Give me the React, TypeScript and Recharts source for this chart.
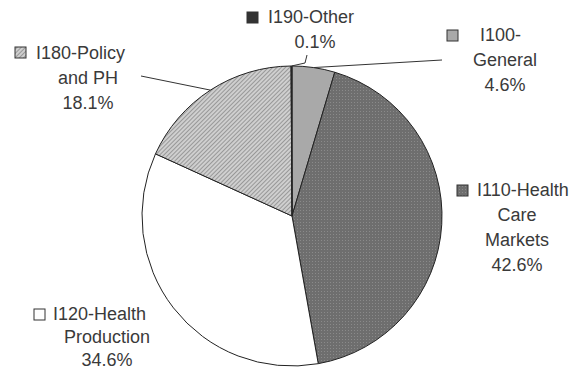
import { Cell, Pie, PieChart } from "recharts";

// slice data, clockwise from 12 o'clock
const categories = ["I100-General", "I110-Health Care Markets", "I120-Health Production", "I180-Policy and PH", "I190-Other"];
const shares = [4.6, 42.6, 34.6, 18.1, 0.1];
const labelText = [
  ["I100-", "General", "4.6%"],
  ["I110-Health", "Care", "Markets", "42.6%"],
  ["I120-Health", "Production", "34.6%"],
  ["I180-Policy", "and PH", "18.1%"],
  ["I190-Other", "0.1%"],
];

const FILLS = ["#a9a9a9", "url(#dots)", "#ffffff", "url(#hatch)", "#333333"];
const TEXT = "#3a3a3a";
const FONT = 18;

// where the hand-placed labels sit: square marker, first line start, centre for the rest
const LABEL_LAYOUT = [
  { sq: [447, 30], first: [480, 35], mid: 505, y0: 35, step: 25, leader: [[442, 60]] },
  { sq: [457, 185], first: [477, 190], mid: 517, y0: 190, step: 25, leader: null },
  { sq: [34, 309], first: [53, 314], mid: 107, y0: 314, step: 23, leader: null },
  { sq: [15, 47], first: [36, 53], mid: 88, y0: 53, step: 25, leader: [[141, 76]] },
  { sq: [247, 12], first: [268, 17], mid: 315, y0: 17, step: 25, leader: [[305, 63], [307, 55]] },
];

const RAD = Math.PI / 180;

function SliceLabel(props: any) {
  const { cx, cy, midAngle, outerRadius, index } = props;
  const lay = LABEL_LAYOUT[index];
  const lines = labelText[index];
  const px = cx + outerRadius * Math.cos(-midAngle * RAD);
  const py = cy + outerRadius * Math.sin(-midAngle * RAD);
  return (
    <g>
      {lay.leader && (
        <polyline
          points={[[px, py], ...lay.leader].map((p) => p.join(",")).join(" ")}
          fill="none"
          stroke="#333"
          strokeWidth={1}
        />
      )}
      <rect x={lay.sq[0]} y={lay.sq[1]} width={11} height={11} fill={FILLS[index]} stroke="#333" strokeWidth={1} />
      {lines.map((t, i) => (
        <text
          key={i}
          x={i === 0 ? lay.first[0] : lay.mid}
          y={lay.y0 + i * lay.step}
          textAnchor={i === 0 ? "start" : "middle"}
          dominantBaseline="central"
          fontSize={FONT}
          fontFamily="'Liberation Sans', Arial, sans-serif"
          fill={TEXT}
        >
          {t}
        </text>
      ))}
    </g>
  );
}

export default function App() {
  const data = categories.map((name, i) => ({ name, value: shares[i] }));
  return (
    <div style={{ position: "absolute", left: 0, top: 0, width: 582, height: 371, background: "#fff" }}>
      <PieChart width={582} height={371} margin={{ top: 0, right: 0, bottom: 0, left: 0 }}>
        <defs>
          <pattern id="hatch" width="3" height="3" patternUnits="userSpaceOnUse" patternTransform="rotate(45)">
            <rect width="3" height="3" fill="#cfcfcf" />
            <line x1="0" y1="0" x2="0" y2="3" stroke="#737373" strokeWidth="1.2" />
          </pattern>
          <pattern id="dots" width="3" height="3" patternUnits="userSpaceOnUse">
            <rect width="3" height="3" fill="#6e6e6e" />
            <rect width="1" height="1" fill="#8a8a8a" />
          </pattern>
        </defs>
        <Pie
          data={data}
          dataKey="value"
          nameKey="name"
          cx={292}
          cy={216}
          outerRadius={150}
          startAngle={90}
          endAngle={-270}
          stroke="#222"
          strokeWidth={1}
          label={SliceLabel}
          labelLine={false}
          isAnimationActive={false}
        >
          {data.map((d, i) => (
            <Cell key={d.name} fill={FILLS[i]} />
          ))}
        </Pie>
      </PieChart>
    </div>
  );
}
